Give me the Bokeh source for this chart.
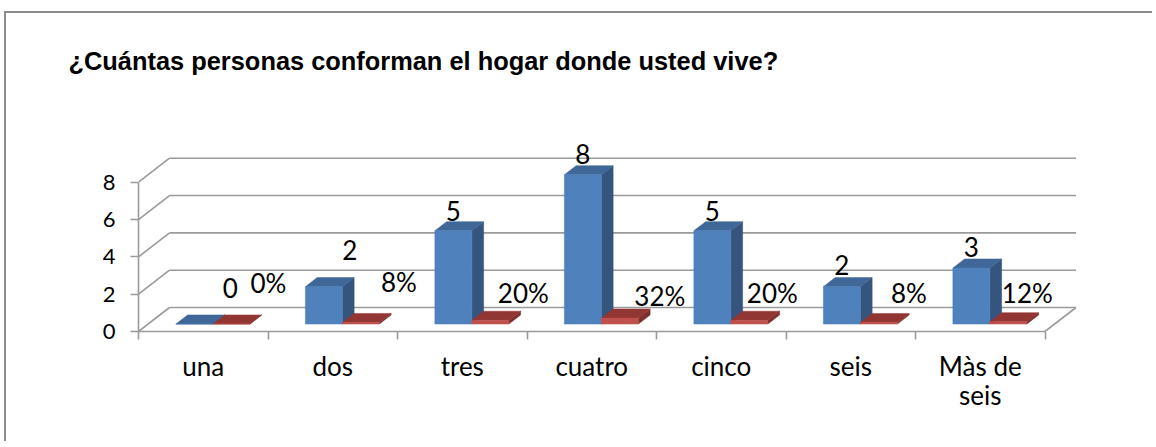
from bokeh.plotting import figure
from bokeh.models import FixedTicker, ColumnDataSource, Range1d
from bokeh.core.properties import value
from bokeh.embed import file_html
from bokeh.resources import INLINE

# ---------------- data ----------------
categories = ["una", "dos", "tres", "cuatro", "cinco", "seis", "Màs de\nseis"]
counts = [0, 2, 5, 8, 5, 2, 3]
shares = [0.00, 0.08, 0.20, 0.32, 0.20, 0.08, 0.12]
y_ticks = [0, 2, 4, 6, 8]
title_text = "¿Cuántas personas conforman el hogar donde usted vive?"

# ---------------- layout / style ----------------
W, H = 1148, 430
LEFT, BOTTOM, TOP = 132, 112, 77
PX_CAT = 129.5          # px per category on the front plane
PX_VAL = 18.66          # px per value unit on the front plane
DEPTH_PX = (31, 24)     # 3-D depth offset of the back wall (px right, px up)
F0, F1 = 0.31, 0.69     # bar depth span (fraction of full depth)
BAR_W = 37 / PX_CAT     # bar width in category units

# label nudges (px): (dx, dy) relative to default label anchors
count_nudge = [(36, -36), (26, -37), (0, -20), (0, -21), (0, -20), (0, -22), (0, -21)]
share_nudge = [(37, -41), (38, -41), (33, -27), (40, -22), (23, -27), (30, -30), (19, -29)]

GRID = "#9a9a9a"
BLUE_FRONT, BLUE_SIDE, BLUE_TOP = "#4f81bd", "#35557f", "#3f6797"
RED_FRONT, RED_SIDE, RED_TOP = "#c0504d", "#7d2f2d", "#923634"

frame_w = W - LEFT
frame_h = H - BOTTOM - TOP
DX = DEPTH_PX[0] / PX_CAT
DY = DEPTH_PX[1] / PX_VAL
n = len(categories)


def P(x, v, f):
    return x + f * DX, v + f * DY


def faces(x0, x1, v):
    def poly(pts):
        return [q[0] for q in pts], [q[1] for q in pts]
    front = poly([P(x0, 0, F0), P(x1, 0, F0), P(x1, v, F0), P(x0, v, F0)])
    side = poly([P(x1, 0, F0), P(x1, 0, F1), P(x1, v, F1), P(x1, v, F0)])
    top = poly([P(x0, v, F0), P(x1, v, F0), P(x1, v, F1), P(x0, v, F1)])
    return front, side, top


p = figure(width=W, height=H, output_backend="svg", toolbar_location=None,
           x_range=Range1d(0, frame_w / PX_CAT), y_range=Range1d(0, frame_h / PX_VAL),
           min_border_left=LEFT, min_border_bottom=BOTTOM, min_border_top=TOP,
           min_border_right=0,
           styles={"border-top": "2px solid #8c8c8c", "border-left": "2px solid #8c8c8c",
                   "margin-top": "11px", "margin-left": "4px"})
p.outline_line_color = None
p.xgrid.visible = False
p.ygrid.visible = False
p.background_fill_color = "white"
p.border_fill_color = "white"

# ---------------- 3-D walls / gridlines ----------------
gx0, gy0, gx1, gy1 = [], [], [], []
bx0, by0, bx1, by1 = [], [], [], []
for t in y_ticks:
    a = P(0, t, 0)
    b = P(0, t, 1)
    c = P(n, t, 1)
    gx0.append(a[0]); gy0.append(a[1]); gx1.append(b[0]); gy1.append(b[1])
    bx0.append(b[0]); by0.append(b[1]); bx1.append(c[0]); by1.append(c[1])
# floor right edge
r0 = P(n, 0, 0)
r1 = P(n, 0, 1)
gx0.append(r0[0]); gy0.append(r0[1]); gx1.append(r1[0]); gy1.append(r1[1])
p.segment(gx0, gy0, gx1, gy1, line_color=GRID, line_width=1.6)
p.segment(bx0, by0, bx1, by1, line_color=GRID, line_width=1.6)

# ---------------- bars ----------------
def add_bars(vals, offset, cf, cs, ct):
    fx, fy, sx, sy, tx, ty = [], [], [], [], [], []
    for i, v in enumerate(vals):
        x0 = i + 0.5 + offset
        x1 = x0 + BAR_W
        (a, b), (c, d), (e, f) = faces(x0, x1, v)
        fx.append(a); fy.append(b); sx.append(c); sy.append(d); tx.append(e); ty.append(f)
    p.patches(sx, sy, fill_color=cs, line_color=cs, line_width=0.5)
    p.patches(tx, ty, fill_color=ct, line_color=ct, line_width=0.5)
    p.patches(fx, fy, fill_color=cf, line_color=cf, line_width=0.5)


add_bars(counts, -BAR_W, BLUE_FRONT, BLUE_SIDE, BLUE_TOP)
add_bars(shares, 0, RED_FRONT, RED_SIDE, RED_TOP)

# ---------------- data labels ----------------
cx, cy = [], []
for i, v in enumerate(counts):
    x, y = P(i + 0.5 - BAR_W / 2, v, F0)
    cx.append(x); cy.append(y)
src_c = ColumnDataSource(dict(x=cx, y=cy, text=[str(v) for v in counts],
                              xo=[d[0] for d in count_nudge], yo=[d[1] for d in count_nudge]))
p.text(x="x", y="y", text="text", x_offset="xo", y_offset="yo", source=src_c,
       text_align="center", text_baseline="alphabetic",
       text_font=value("Lato"), text_font_size="26px", text_color="black")

sx_, sy_ = [], []
for i, v in enumerate(shares):
    x, y = P(i + 0.5 + BAR_W / 2, v, F0)
    sx_.append(x); sy_.append(y)
src_s = ColumnDataSource(dict(x=sx_, y=sy_, text=[f"{round(v * 100)}%" for v in shares],
                              xo=[d[0] for d in share_nudge], yo=[d[1] for d in share_nudge]))
p.text(x="x", y="y", text="text", x_offset="xo", y_offset="yo", source=src_s,
       text_align="center", text_baseline="alphabetic",
       text_font=value("Lato"), text_font_size="26px", text_color="black")

# ---------------- axes ----------------
ya = p.yaxis[0]
ya.ticker = FixedTicker(ticks=y_ticks)
ya.bounds = (min(y_ticks), max(y_ticks))
ya.axis_line_color = GRID
ya.axis_line_width = 1.6
ya.major_tick_line_color = GRID
ya.major_tick_line_width = 1.6
ya.major_tick_out = 8
ya.major_tick_in = 0
ya.minor_tick_line_color = None
ya.major_label_standoff = 15
ya.major_label_text_font = "Lato"
ya.major_label_text_font_size = "22px"
ya.major_label_text_color = "black"

xa = p.xaxis[0]
centers = [i + 0.5 for i in range(n)]
xa.ticker = FixedTicker(ticks=centers, minor_ticks=list(range(n + 1)))
xa.major_label_overrides = {c: lab for c, lab in zip(centers, categories)}
xa.bounds = (0, n)
xa.axis_line_color = GRID
xa.axis_line_width = 1.6
xa.major_tick_line_color = None
xa.major_tick_out = 0
xa.major_tick_in = 0
xa.minor_tick_line_color = GRID
xa.minor_tick_line_width = 1.6
xa.minor_tick_out = 8
xa.minor_tick_in = 0
xa.major_label_standoff = 10
xa.major_label_text_font = "Lato"
xa.major_label_text_font_size = "26px"
xa.major_label_text_line_height = 0.93
xa.major_label_text_color = "black"

# ---------------- title ----------------
p.title.text = title_text
p.title.text_font = "Liberation Sans"
p.title.text_font_size = "25.4px"
p.title.text_font_style = "bold"
p.title.text_color = "black"
p.title.align = "left"
p.title.offset = -70
p.title.standoff = 31

open("out.html", "w").write(file_html(p, INLINE))
